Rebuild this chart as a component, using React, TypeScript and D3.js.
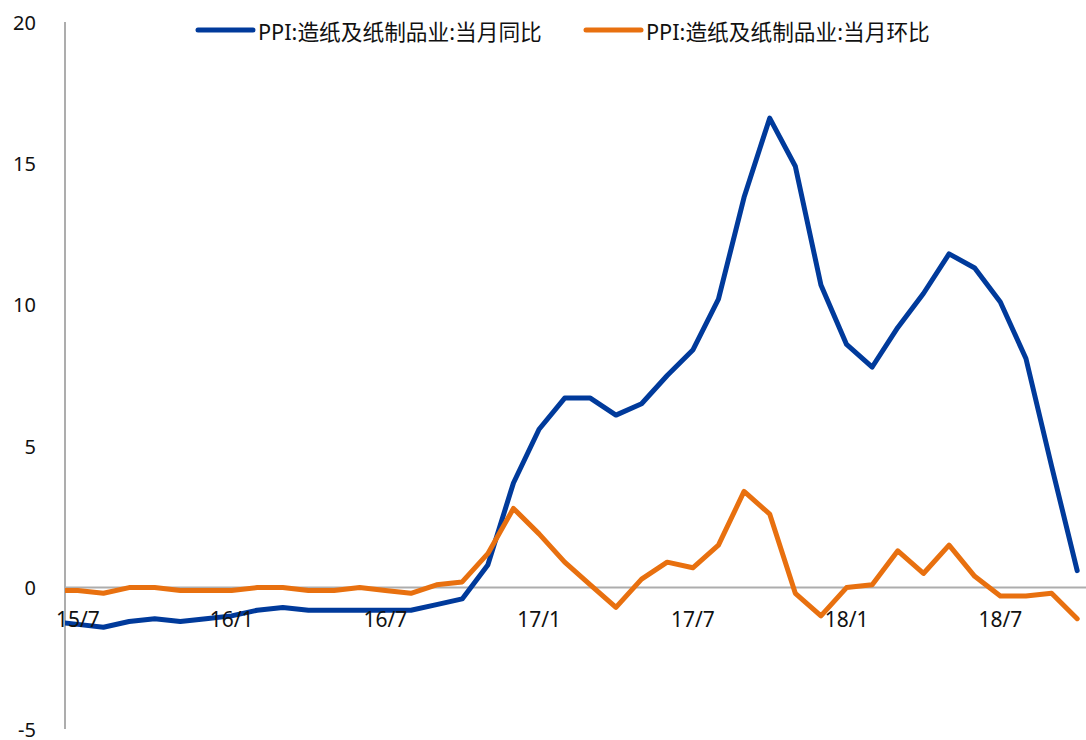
import React from "react";
import * as d3 from "d3";

const months = [
  "15/6", "15/7", "15/8", "15/9", "15/10", "15/11", "15/12",
  "16/1", "16/2", "16/3", "16/4", "16/5", "16/6", "16/7", "16/8", "16/9", "16/10", "16/11", "16/12",
  "17/1", "17/2", "17/3", "17/4", "17/5", "17/6", "17/7", "17/8", "17/9", "17/10", "17/11", "17/12",
  "18/1", "18/2", "18/3", "18/4", "18/5", "18/6", "18/7", "18/8", "18/9", "18/10",
];

const yoy = [
  -1.2, -1.3, -1.4, -1.2, -1.1, -1.2, -1.1,
  -1.0, -0.8, -0.7, -0.8, -0.8, -0.8, -0.8, -0.8, -0.6, -0.4, 0.8, 3.7,
  5.6, 6.7, 6.7, 6.1, 6.5, 7.5, 8.4, 10.2, 13.8, 16.6, 14.9, 10.7,
  8.6, 7.8, 9.2, 10.4, 11.8, 11.3, 10.1, 8.1, 4.3, 0.6,
];

const mom = [
  -0.1, -0.1, -0.2, 0.0, 0.0, -0.1, -0.1,
  -0.1, 0.0, 0.0, -0.1, -0.1, 0.0, -0.1, -0.2, 0.1, 0.2, 1.2, 2.8,
  1.9, 0.9, 0.1, -0.7, 0.3, 0.9, 0.7, 1.5, 3.4, 2.6, -0.2, -1.0,
  0.0, 0.1, 1.3, 0.5, 1.5, 0.4, -0.3, -0.3, -0.2, -1.1,
];

const xTickLabels = ["15/7", "16/1", "16/7", "17/1", "17/7", "18/1", "18/7"];
const yTicks = [-5, 0, 5, 10, 15, 20];

const seriesNames = ["PPI:造纸及纸制品业:当月同比", "PPI:造纸及纸制品业:当月环比"];
const seriesColors = ["#003A9B", "#E8700F"];

const W = 1086;
const H = 740;
const plotLeft = 65;
const plotRight = 1090;
const plotTop = 22;
const plotBottom = 729;
const FONT = "'Noto Sans', 'Noto Sans CJK SC', sans-serif";

export default function App() {
  // months[0] is a hidden leading category (clipped at the axis)
  const x = d3.scaleLinear().domain([0.5, months.length - 0.5]).range([plotLeft, plotRight]);
  const y = d3.scaleLinear().domain([-5, 20]).range([plotBottom, plotTop]);

  const line = d3
    .line<number>()
    .x((_, i) => x(i))
    .y((d) => y(d));

  const series = [yoy, mom];
  const legendX = [198, 586];

  return (
    <svg
      width={W}
      height={H}
      style={{ position: "absolute", left: 0, top: 0, display: "block", background: "#fff" }}
      fontFamily={FONT}
    >
      <defs>
        <clipPath id="plotClip">
          <rect x={plotLeft} y={0} width={plotRight - plotLeft} height={H} />
        </clipPath>
      </defs>

      {/* y axis line */}
      <line x1={plotLeft} x2={plotLeft} y1={y(20)} y2={y(-5)} stroke="#ADADAD" strokeWidth={2} />
      {/* zero line */}
      <line x1={plotLeft} x2={W} y1={y(0)} y2={y(0)} stroke="#ADADAD" strokeWidth={2} />

      {/* y tick labels */}
      {yTicks.map((t) => (
        <text key={t} x={36} y={y(t)} textAnchor="end" dominantBaseline="central" fontSize={20} fill="#111">
          {t}
        </text>
      ))}

      {/* lines */}
      <g clipPath="url(#plotClip)">
        {series.map((s, k) => (
          <path
            key={k}
            d={line(s) || ""}
            fill="none"
            stroke={seriesColors[k]}
            strokeWidth={5}
            strokeLinejoin="round"
            strokeLinecap="round"
          />
        ))}
      </g>

      {/* x tick labels */}
      {xTickLabels.map((lab) => (
        <text
          key={lab}
          x={x(months.indexOf(lab))}
          y={y(0) + 31}
          textAnchor="middle"
          dominantBaseline="central"
          fontSize={21}
          fill="#111"
        >
          {lab}
        </text>
      ))}

      {/* legend */}
      {seriesNames.map((name, k) => {
        const lx = legendX[k];
        return (
          <g key={name}>
            <line x1={lx} x2={lx + 55} y1={30} y2={30} stroke={seriesColors[k]} strokeWidth={5} strokeLinecap="round" />
            <text x={lx + 60} y={31} dominantBaseline="central" fontSize={21.7} fill="#111">
              {name}
            </text>
          </g>
        );
      })}
    </svg>
  );
}
